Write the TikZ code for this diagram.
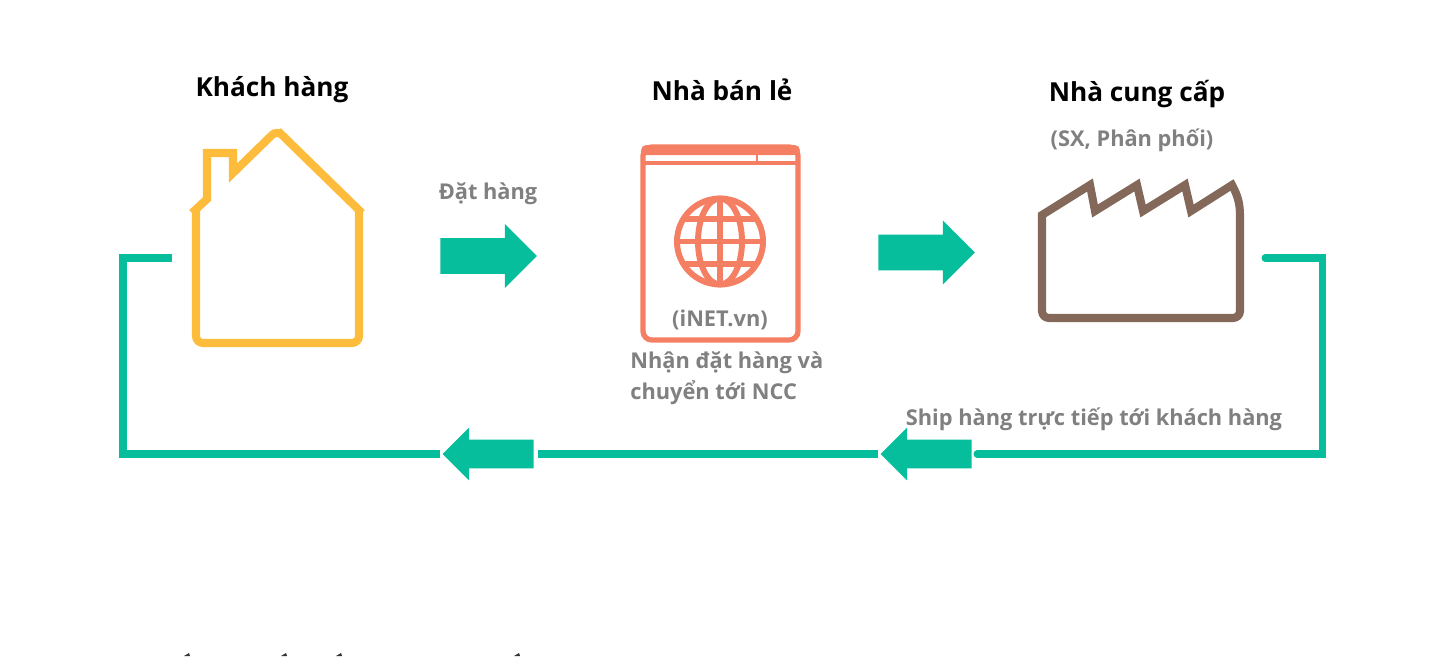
\documentclass[tikz,border=0pt]{standalone}
\usepackage{fontspec}
\setmainfont{Open Sans}
\usetikzlibrary{shapes.arrows}
\definecolor{teal1}{HTML}{06BE9C}
\definecolor{coral1}{HTML}{F47F63}
\definecolor{brown1}{HTML}{846859}
\definecolor{yellow1}{HTML}{FDBC3B}
\definecolor{gray1}{HTML}{808080}
\tikzset{
  title/.style = {font=\fontsize{14.9}{17}\selectfont\bfseries, text=black, inner sep=0pt},
  lbl/.style = {font=\fontsize{12.4}{17.6}\selectfont\bfseries, text=gray1, inner sep=0pt},
  bigarrow/.style = {single arrow, fill=teal1, anchor=tail, inner xsep=0pt, inner ysep=.35cm,
    minimum height=1.93cm, single arrow head extend=.28cm},
  smallarrow/.style = {single arrow, fill=teal1, anchor=tail, inner xsep=0pt, inner ysep=.28cm,
    minimum height=1.82cm, single arrow head extend=.24cm, shape border rotate=180},
  wire/.style = {teal1, line width=4pt, line join=miter}
}
\begin{document}
\begin{tikzpicture}[x=.02cm, y=-.02cm]
  \useasboundingbox (0,0) rectangle (1450,656);
  % titles
  \node[title] (cust) at (272,90) {Khách hàng};
  \node[title] (shop) at (722,90) {Nhà bán lẻ};
  \node[title] (supp) at (1137,94) {Nhà cung cấp};
  % gray labels
  \node[lbl] (kind) at (1132,140) {(SX, Phân phối)};
  \node[lbl] (order) at (488,194) {Đặt hàng};
  \node[lbl] (inet) at (720,320) {(iNET.vn)};
  \node[lbl, align=left, anchor=west] (recv) at (630,378) {Nhận đặt hàng và\\chuyển tới NCC};
  \node[lbl] (ship) at (1094,419) {Ship hàng trực tiếp tới khách hàng};
  % house
  \draw[yellow1, line width=4.6pt, line join=miter]
    (192,213) -- (207,199) -- (207,153) -- (233,153) -- (233,173) -- (271,136)
    [rounded corners=4pt] -- (277,130) -- (283,136) [sharp corners] -- (362,213);
  \draw[yellow1, line width=4.6pt, rounded corners=4pt]
    (196,210) -- (196,343) -- (359,343) -- (359,210);
  % browser window
  \draw[coral1, line width=3pt, rounded corners=5pt] (643,147) rectangle (798,340);
  \fill[coral1, rounded corners=3pt] (641,145) rectangle (800,155);
  \fill[coral1] (641,152) rectangle (800,155);
  \draw[coral1, line width=2pt] (643,163) -- (798,163);
  \draw[coral1, line width=1.5pt] (757,155) -- (757,162);
  % globe
  \begin{scope}[coral1, line width=3.4pt]
    \draw (720,241.5) circle (43);
    \draw (720,241.5) ellipse (22 and 43);
    \draw (720,198) -- (720,285);
    \draw (677,241.5) -- (763,241.5);
    \draw (684,219) -- (756,219);
    \draw (684,264) -- (756,264);
  \end{scope}
  % factory
  \draw[brown1, line width=4.6pt, line join=miter]
    (1042,240) -- (1042,215) -- (1090,185) -- (1095,211) -- (1137,185) -- (1143,211) -- (1185,185)
    -- (1191,211) -- (1232,185) .. controls (1238,196) and (1240,204) .. (1240,216)
    [rounded corners=4pt] -- (1240,318) -- (1042,318) -- (1042,240);
  % block arrows
  \node[bigarrow] (a1) at (440,256) {};
  \node[bigarrow] (a2) at (878,252.5) {};
  \node[smallarrow] (a3) at (972,454) {};
  \node[smallarrow] (a4) at (534,454) {};
  % return line
  \coordinate (s) at (1265,258);
  \coordinate (c1) at (1322,258);
  \coordinate (c2) at (1322,454);
  \coordinate (c3) at (123,454);
  \coordinate (c4) at (123,258);
  \coordinate (e) at (172,258);
  \draw[wire, line cap=round] (s) -- (c1) -- (c2) -- ([xshift=5*.02cm]a3.tail);
  \draw[wire, shorten >=2.3pt, shorten <=1.5pt] (a3.tip) -- (a4.tail);
  \draw[wire, shorten <=1.5pt] (a4.tip) -- (c3) -- (c4) -- (e);
  % clipped accents along the lower edge
  \foreach \mx/\my in {187/654, 284/654, 339/654, 517/654}
    \fill[black!80] (\mx-3,\my+2) -- (\mx+2,\my-1) -- (\mx+3,\my+2) -- cycle;
\end{tikzpicture}
\end{document}
